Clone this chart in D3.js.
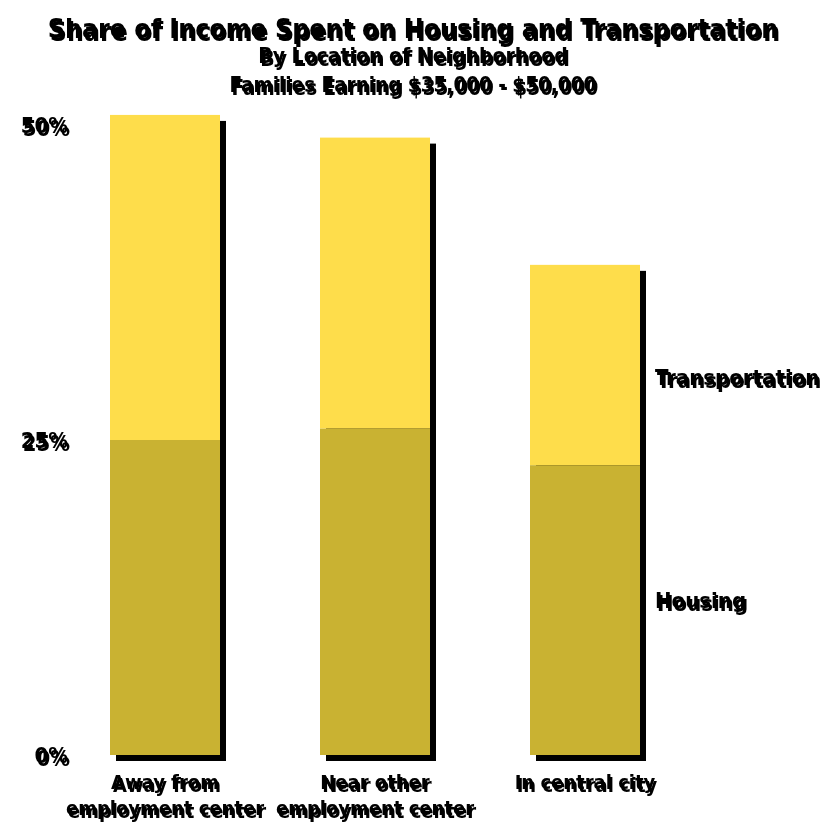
<!DOCTYPE html>
<html>
<head>
<meta charset="utf-8">
<script src="https://cdn.jsdelivr.net/npm/d3@7"></script>
<style>
body { margin: 0; background: #fff; }
text { font-family: "DejaVu Sans Condensed", "Liberation Sans Narrow", sans-serif; font-weight: bold; fill: #000; }
</style>
</head>
<body>
<div id="chart"></div>
<script>
var categories = [["Away from", "employment center"], ["Near other", "employment center"], ["In central city"]];
var housing = [25, 25.9, 23];
var transportation = [25.8, 23.1, 15.9];
var ticks = [0, 25, 50];
var seriesNames = ["Housing", "Transportation"];

var w = 830, h = 830;
var sdx = 6, sdy = 6; // bar shadow

var svg = d3.select("#chart").append("svg")
	.attr("width", w)
	.attr("height", h)
	.style("background", "#FFFFFF");

// text gets a doubled copy, offset a little, like the original
var f = svg.append("defs").append("filter")
	.attr("id", "dbl")
	.attr("x", "-10%").attr("y", "-30%")
	.attr("width", "130%").attr("height", "170%");
f.append("feOffset").attr("in", "SourceGraphic").attr("dx", 2).attr("dy", 3).attr("result", "off");
var m = f.append("feMerge");
m.append("feMergeNode").attr("in", "off");
m.append("feMergeNode").attr("in", "SourceGraphic");

function label(x, y, str, size, anchor) {
	return svg.append("text")
		.attr("x", x)
		.attr("y", y)
		.attr("text-anchor", anchor || "middle")
		.attr("filter", "url(#dbl)")
		.style("font-size", size + "px")
		.text(str);
}

var xscale = d3.scaleBand()
	.domain(d3.range(categories.length))
	.range([110, 640])
	.paddingInner(100 / 210)
	.paddingOuter(0);

var yscale = d3.scaleLinear()
	.domain([0, 50])
	.range([755, 125]);

label(413, 38, "Share of Income Spent on Housing and Transportation", 26.5);
label(413, 63, "By Location of Neighborhood", 21);
label(413, 92, "Families Earning $35,000 - $50,000", 20.5);

var stacked = categories.map(function(c, i) {
	return { i: i, h: housing[i], t: transportation[i] };
});

// shadows
svg.selectAll("rect.shadow")
	.data(stacked)
	.enter()
	.append("rect")
	.attr("class", "shadow")
	.attr("x", function(d) { return xscale(d.i) + sdx; })
	.attr("y", function(d) { return yscale(d.h + d.t) + sdy; })
	.attr("width", xscale.bandwidth())
	.attr("height", function(d) { return yscale(0) - yscale(d.h + d.t); })
	.style("fill", "#000");

svg.selectAll("rect.trans")
	.data(stacked)
	.enter()
	.append("rect")
	.attr("class", "trans")
	.attr("x", function(d) { return xscale(d.i); })
	.attr("y", function(d) { return yscale(d.h + d.t); })
	.attr("width", xscale.bandwidth())
	.attr("height", function(d) { return yscale(d.h) - yscale(d.h + d.t); })
	.style("fill", "#FEDD4B");

svg.selectAll("rect.house")
	.data(stacked)
	.enter()
	.append("rect")
	.attr("class", "house")
	.attr("x", function(d) { return xscale(d.i); })
	.attr("y", function(d) { return yscale(d.h); })
	.attr("width", xscale.bandwidth())
	.attr("height", function(d) { return yscale(0) - yscale(d.h); })
	.style("fill", "#C9B232");

// y labels
ticks.forEach(function(t) {
	label(68, yscale(t) + 8, t + "%", 22, "end");
});

// category labels
categories.forEach(function(lines, i) {
	var cx = xscale(i) + xscale.bandwidth() / 2;
	lines.forEach(function(l, j) {
		label(cx, 789 + j * 26, l, 20);
	});
});

// series labels beside last bar
label(655, 385, seriesNames[1], 22, "start");
label(655, 608, seriesNames[0], 22, "start");
</script>
</body>
</html>
